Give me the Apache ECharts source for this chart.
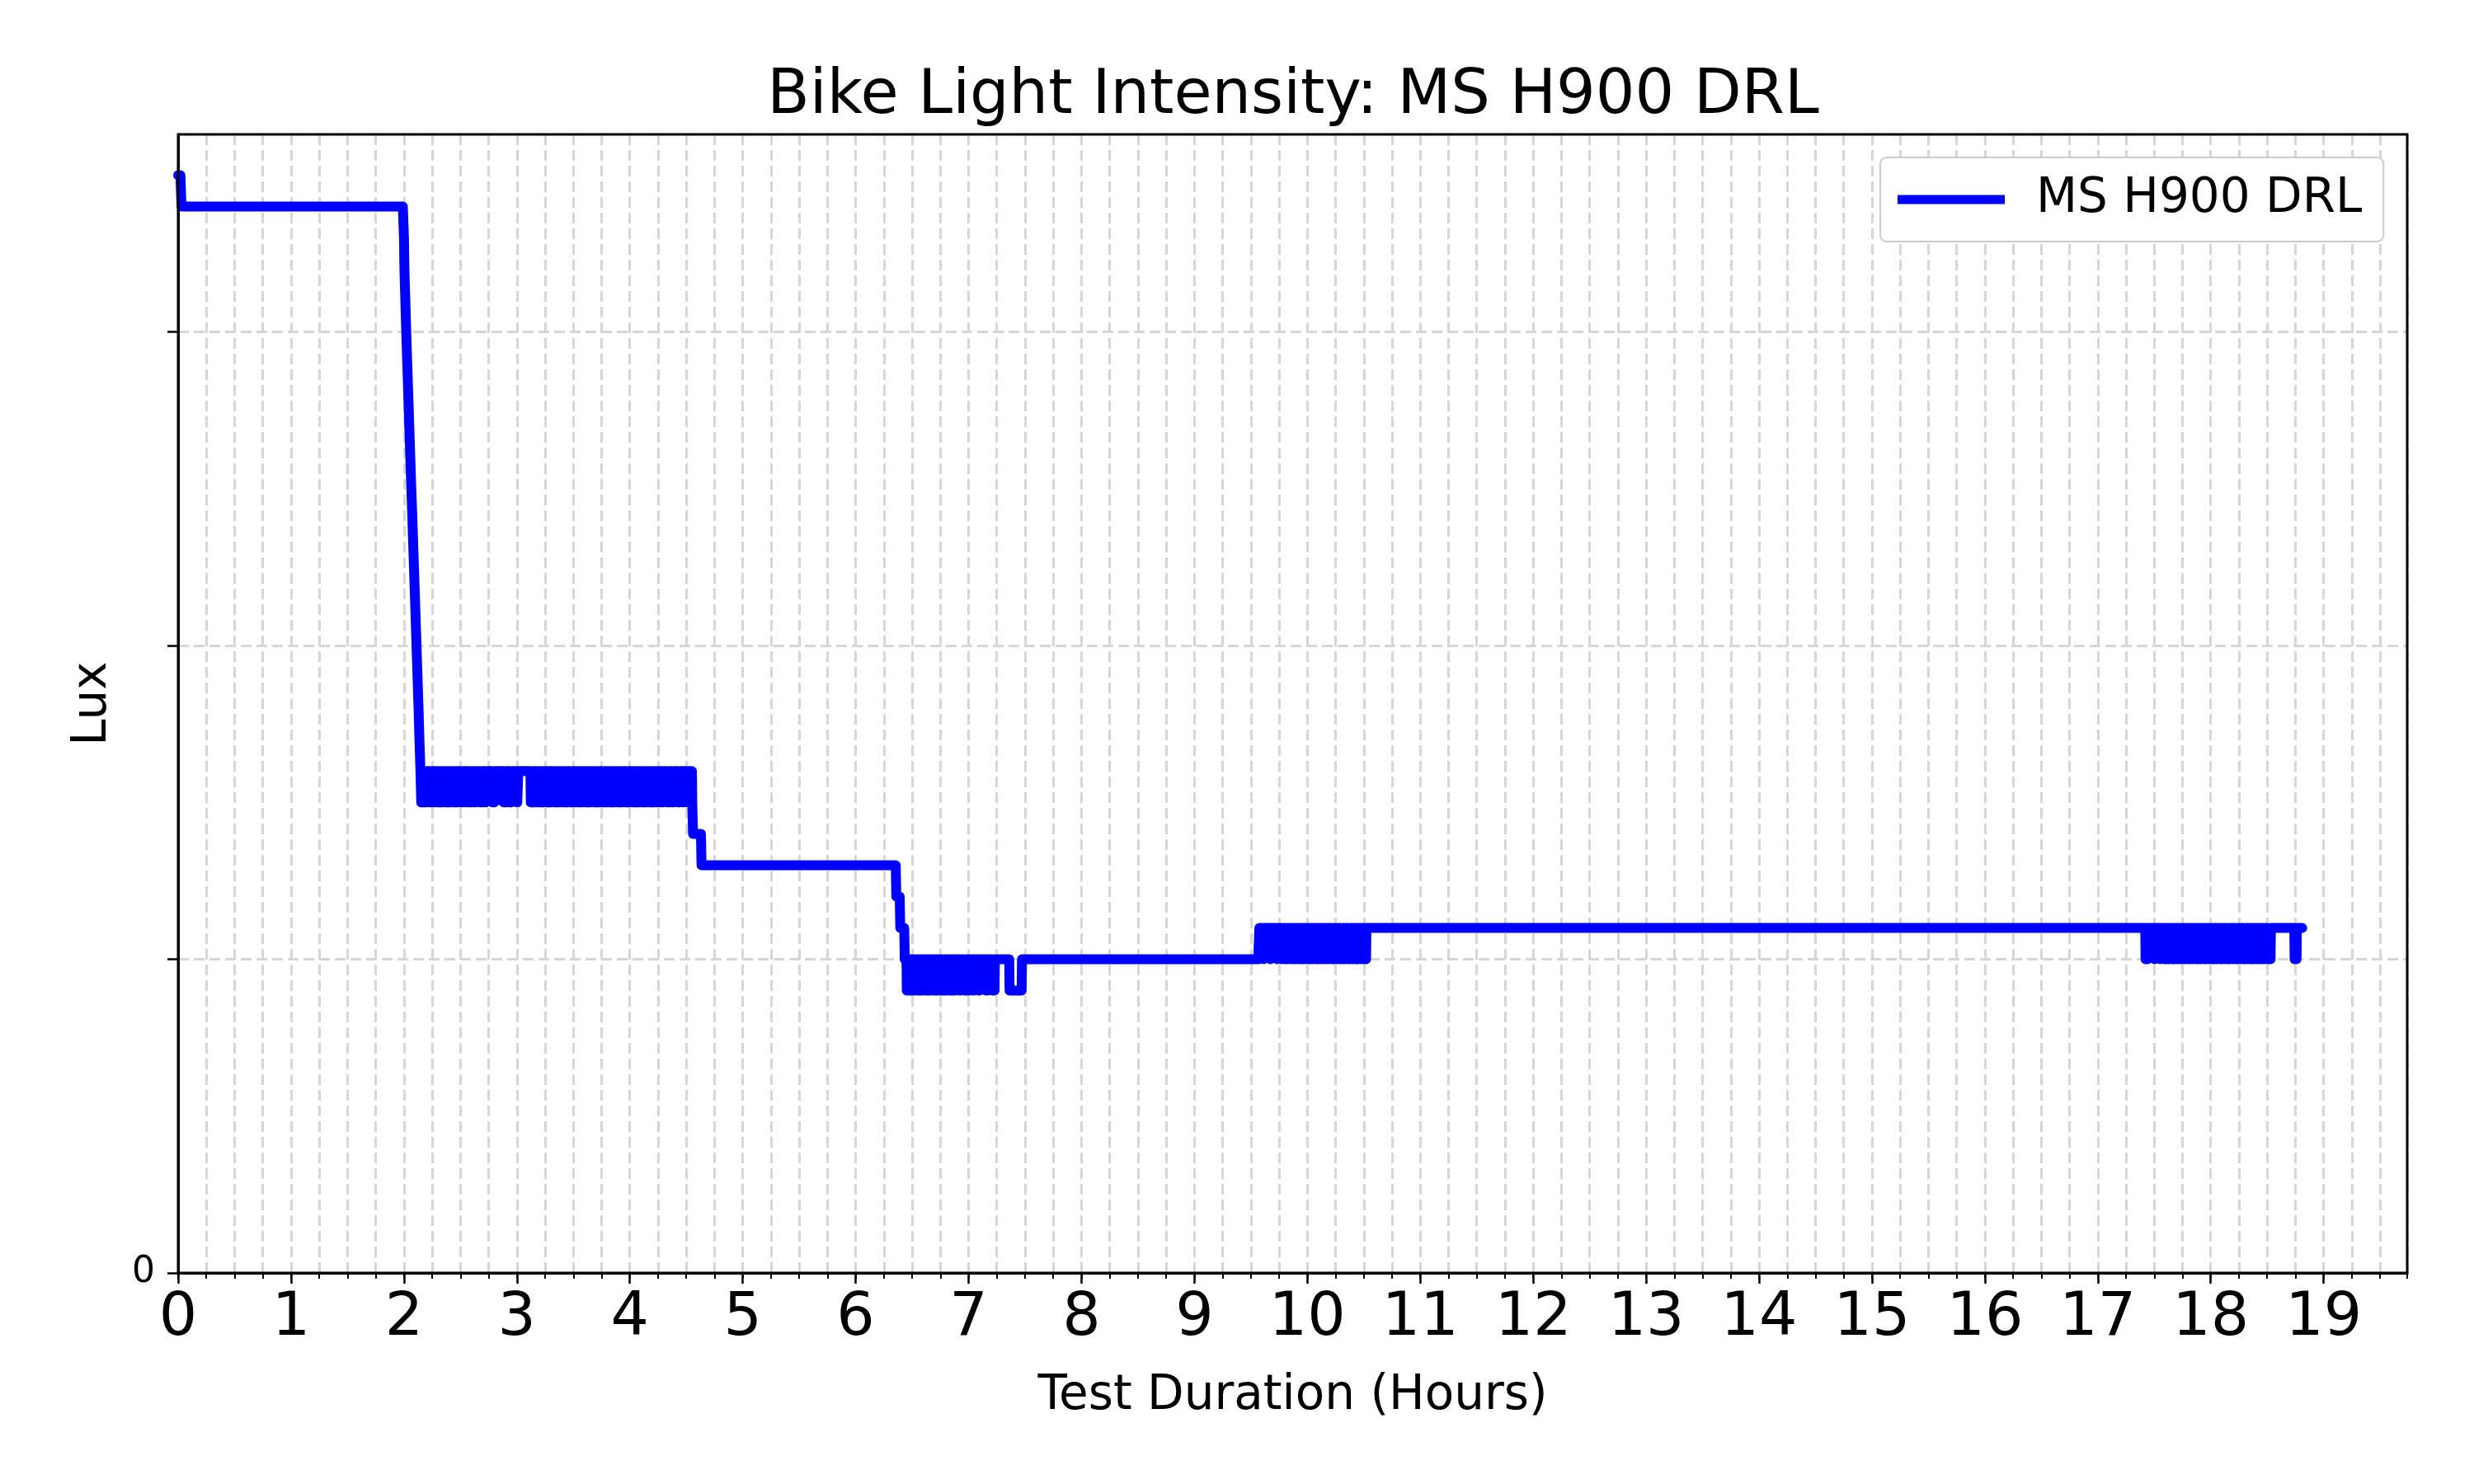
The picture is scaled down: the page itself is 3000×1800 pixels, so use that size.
<!DOCTYPE html>
<html>
<head>
<meta charset="utf-8">
<script src="https://cdn.jsdelivr.net/npm/echarts@6/dist/echarts.min.js"></script>
<style>
html,body{margin:0;padding:0;background:#fff;}
#chart{width:3000px;height:1800px;}
</style>
</head>
<body>
<div id="chart"></div>
<script>
// ---- Data (hours, lux) ----
const seriesName = 'MS H900 DRL';
const xTickLabels = ['0','1','2','3','4','5','6','7','8','9','10','11','12','13','14','15','16','17','18','19'];

// start spike, plateau and the drop after 2 h
const startTrace = [[0,350],[0.02,350],[0.03,340],[1.99,340],[2.000,330],[2.004,320],[2.012,310],[2.020,300],[2.029,290],[2.038,280],[2.047,270],[2.056,260],[2.065,250],[2.075,240],[2.084,230],[2.093,220],[2.102,210],[2.111,200],[2.120,190],[2.129,180],[2.137,170],[2.146,160]];
// flicker 160 -> 150 between 2.15 h and 4.55 h
const dipsA = [[2.15,2.17],[2.19,2.20],[2.22,2.24],[2.26,2.27],[2.29,2.31],[2.33,2.34],[2.36,2.38],[2.40,2.41],[2.43,2.45],[2.47,2.48],[2.50,2.52],[2.55,2.56],[2.58,2.60],[2.63,2.64],[2.67,2.69],[2.72,2.73],[2.78,2.80],[2.88,2.90],[2.93,2.95],[3.00,3.01],[3.12,3.14],[3.16,3.17],[3.19,3.21],[3.23,3.24],[3.26,3.28],[3.30,3.31],[3.33,3.35],[3.37,3.38],[3.40,3.42],[3.44,3.45],[3.47,3.49],[3.51,3.52],[3.54,3.56],[3.58,3.59],[3.61,3.63],[3.65,3.66],[3.68,3.70],[3.72,3.73],[3.75,3.77],[3.79,3.80],[3.82,3.84],[3.86,3.87],[3.89,3.91],[3.93,3.94],[3.96,3.98],[4.00,4.01],[4.03,4.05],[4.07,4.08],[4.10,4.12],[4.14,4.15],[4.17,4.19],[4.21,4.22],[4.24,4.26],[4.29,4.30],[4.33,4.35],[4.38,4.39],[4.42,4.44],[4.47,4.48],[4.51,4.52]];
// steps down from 160 to 100
const midTrace = [[4.55,160],[4.553,150],[4.556,150],[4.56,140],[4.63,140],[4.635,130],[6.355,130],[6.36,120],[6.39,120],[6.395,110],[6.43,110],[6.435,100]];
// flicker 100 -> 90 between 6.45 h and 7.47 h
const dipsB = [[6.45,6.47],[6.49,6.50],[6.52,6.53],[6.55,6.57],[6.59,6.60],[6.62,6.64],[6.66,6.67],[6.69,6.71],[6.73,6.74],[6.76,6.78],[6.80,6.81],[6.83,6.85],[6.87,6.88],[6.92,6.93],[6.96,6.98],[7.00,7.01],[7.04,7.05],[7.09,7.10],[7.15,7.17],[7.21,7.23],[7.36,7.47]];
// rise back to 110 at 9.57 h
const riseTrace = [[9.565,100],[9.575,110]];
// flicker 110 -> 100 between 9.6 h and 10.52 h
const dipsC = [[9.61,9.62],[9.67,9.68],[9.73,9.74],[9.77,9.78],[9.80,9.82],[9.84,9.85],[9.87,9.89],[9.91,9.92],[9.94,9.96],[9.98,9.99],[10.01,10.03],[10.05,10.06],[10.08,10.10],[10.12,10.13],[10.15,10.17],[10.19,10.20],[10.22,10.24],[10.26,10.27],[10.29,10.31],[10.33,10.34],[10.36,10.38],[10.40,10.41],[10.43,10.45],[10.47,10.48],[10.50,10.52]];
// flicker 110 -> 100 between 17.42 h and 18.76 h
const dipsD = [[17.42,17.44],[17.50,17.51],[17.55,17.56],[17.59,17.61],[17.63,17.64],[17.66,17.68],[17.70,17.71],[17.73,17.75],[17.77,17.78],[17.80,17.82],[17.84,17.85],[17.87,17.89],[17.91,17.92],[17.94,17.96],[17.98,17.99],[18.01,18.03],[18.05,18.06],[18.08,18.10],[18.12,18.13],[18.15,18.17],[18.19,18.20],[18.22,18.24],[18.26,18.27],[18.29,18.31],[18.33,18.34],[18.36,18.38],[18.40,18.41],[18.43,18.45],[18.47,18.48],[18.50,18.53],[18.74,18.76]];
const endTrace = [[18.81,110]];

const yTickValues = [0,100,200,300];

// ---- assemble the trace ----
function addDips(out, dips, hi, lo) {
  for (const d of dips) {
    out.push([d[0], hi], [d[0] + 0.003, lo], [d[1], lo], [d[1] + 0.003, hi]);
  }
}
const pts = [];
pts.push(...startTrace);
addDips(pts, dipsA, 160, 150);
pts.push(...midTrace);
addDips(pts, dipsB, 100, 90);
pts.push(...riseTrace);
addDips(pts, dipsC, 110, 100);
addDips(pts, dipsD, 110, 100);
pts.push(...endTrace);

const FONT = 'DejaVu Sans';
const gridColor = '#d6d6d6';
const xMax = 19.74;
const yMax = 363;

const chart = echarts.init(document.getElementById('chart'), null, {renderer: 'canvas', width: 3000, height: 1800});
chart.setOption({
  backgroundColor: '#ffffff',
  animation: false,
  title: {
    text: 'Bike Light Intensity: MS H900 DRL',
    left: 1568, top: 73, textAlign: 'center', padding: 0,
    textStyle: {fontFamily: FONT, fontSize: 75, fontWeight: 'normal', color: '#000', lineHeight: 90}
  },
  legend: {
    data: [seriesName],
    left: 2280, top: 191,
    padding: [22, 26, 22, 21],
    borderColor: '#cccccc', borderWidth: 2, borderRadius: 8,
    backgroundColor: '#ffffff',
    icon: 'rect', itemWidth: 130, itemHeight: 11,
    textStyle: {fontFamily: FONT, fontSize: 58, color: '#000', padding: [0, 0, 0, 33], lineHeight: 58}
  },
  grid: {left: 216, top: 163, width: 2703, height: 1381, show: true, borderColor: '#000', borderWidth: 3, backgroundColor: 'transparent', containLabel: false, z: 10},
  xAxis: [
    {
      type: 'value', min: 0, max: xMax, interval: 1, position: 'bottom',
      name: 'Test Duration (Hours)', nameLocation: 'middle', nameGap: 121,
      nameTextStyle: {fontFamily: FONT, fontSize: 58, color: '#000'},
      axisLine: {show: true, onZero: false, lineStyle: {color: '#000', width: 3}},
      axisTick: {show: true, inside: false, length: 13, lineStyle: {color: '#000', width: 2.5}},
      axisLabel: {show: true, margin: 20, showMaxLabel: false, fontFamily: FONT, fontSize: 73, color: '#000',
        formatter: function (v) { const i = Math.round(v); return (Math.abs(v - i) < 1e-6 && xTickLabels[i] !== undefined) ? xTickLabels[i] : ''; }},
      splitLine: {show: false}
    },
    {
      type: 'value', min: 0, max: xMax, interval: 0.25, position: 'bottom',
      axisLine: {show: false},
      axisTick: {show: true, inside: false, length: 7, lineStyle: {color: '#000', width: 2}},
      axisLabel: {show: false},
      splitLine: {show: true, lineStyle: {color: gridColor, width: 3, type: [13, 6]}}
    }
  ],
  yAxis: {
    type: 'value', min: 0, max: yMax, interval: 100,
    name: 'Lux', nameLocation: 'middle', nameGap: 74, nameRotate: 90,
    nameTextStyle: {fontFamily: FONT, fontSize: 58, color: '#000'},
    axisLine: {show: true, lineStyle: {color: '#000', width: 3}},
    axisTick: {show: true, inside: false, length: 13, lineStyle: {color: '#000', width: 2.5}, customValues: yTickValues},
    axisLabel: {show: true, margin: 28, fontFamily: FONT, fontSize: 44, color: '#000', customValues: yTickValues,
      padding: [8, 0, 0, 0],
      formatter: function (v) { return v === 0 ? '0' : ''; }},
    splitLine: {show: true, lineStyle: {color: gridColor, width: 3, type: [13, 6]}}
  },
  series: [{
    name: seriesName,
    type: 'line',
    xAxisIndex: 0,
    data: pts,
    showSymbol: false,
    symbol: 'none',
    color: '#0000ff',
    lineStyle: {color: '#0000ff', width: 12, cap: 'round', join: 'round'},
    z: 5
  }]
});
</script>
</body>
</html>
